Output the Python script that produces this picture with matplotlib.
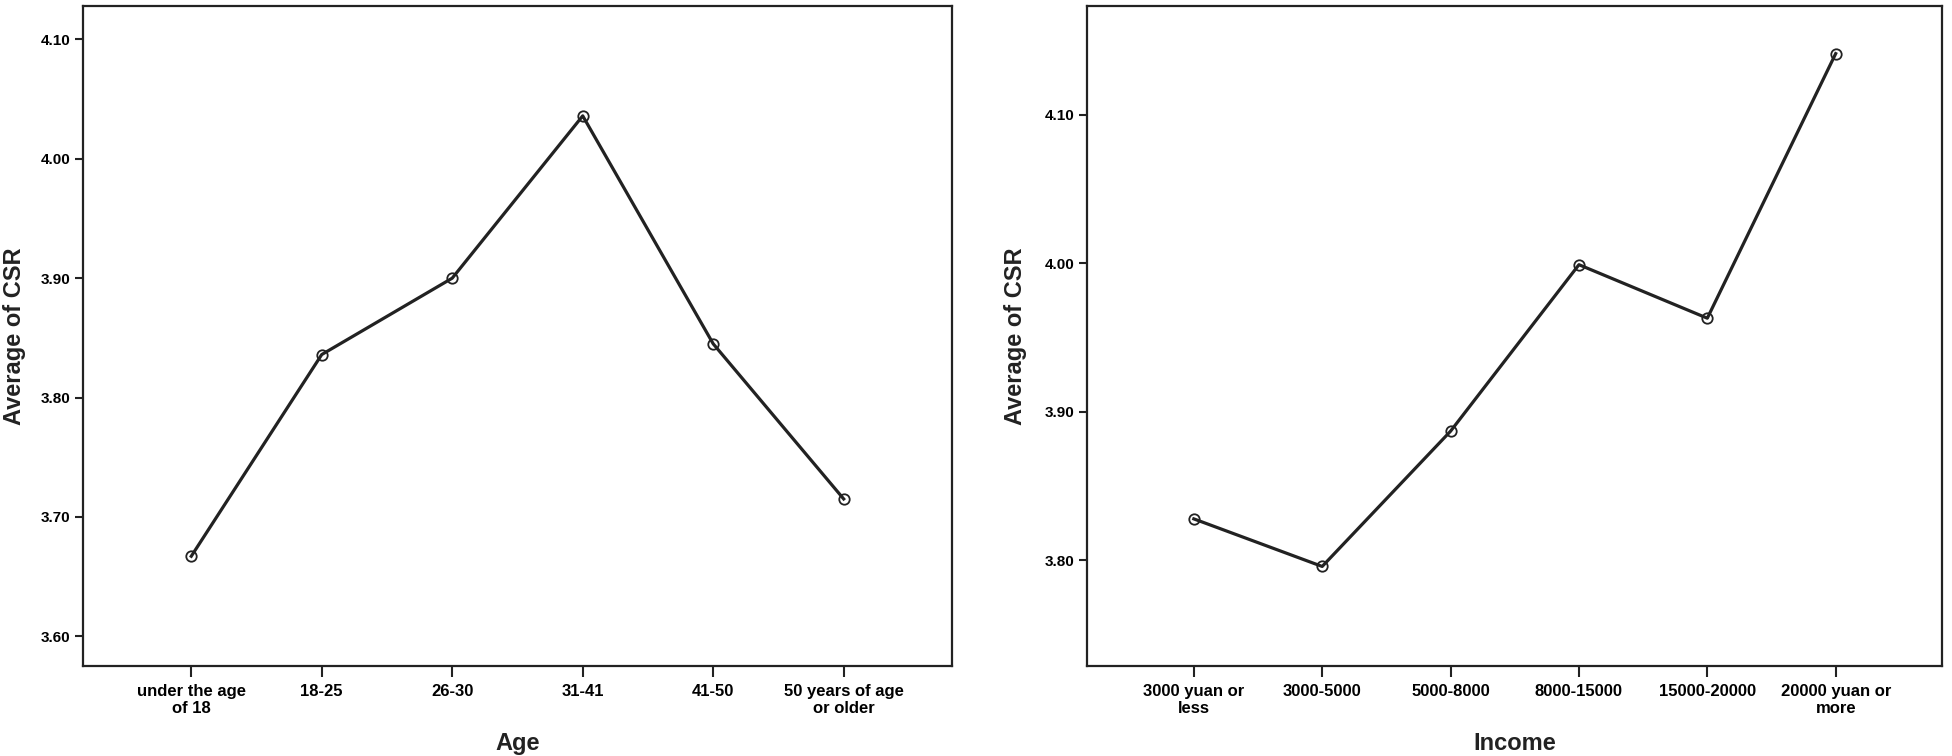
import matplotlib
matplotlib.use("Agg")
import matplotlib.pyplot as plt

# Left panel: Age
age_labels = ["under the age\nof 18", "18-25", "26-30", "31-41", "41-50", "50 years of age\nor older"]
age_means = [3.667, 3.836, 3.900, 4.036, 3.845, 3.715]
age_yticks = [3.60, 3.70, 3.80, 3.90, 4.00, 4.10]

# Right panel: Income
income_labels = ["3000 yuan or\nless", "3000-5000", "5000-8000", "8000-15000", "15000-20000", "20000 yuan or\nmore"]
income_means = [3.828, 3.796, 3.887, 3.999, 3.963, 4.141]
income_yticks = [3.80, 3.90, 4.00, 4.10]

ink = "#222222"
fam = ["Liberation Sans", "DejaVu Sans"]

fig = plt.figure(figsize=(19.52, 7.56), dpi=100)
ax1 = fig.add_axes([0.0425, 0.119, 0.4452, 0.873])
ax2 = fig.add_axes([0.557, 0.119, 0.438, 0.873])


def draw(ax, labels, means, yticks, ylim, xlabel, ylab_x):
    x = list(range(1, len(labels) + 1))
    ax.plot(x, means, color=ink, lw=2.3, marker="o", ms=7.5,
            mfc="none", mec=ink, mew=1.3)
    ax.set_xlim(0.17, len(labels) + 0.83)
    ax.set_ylim(*ylim)
    ax.set_xticks(x)
    ax.set_xticklabels(labels, fontsize=12, fontweight="bold",
                       family=fam, linespacing=1.15)
    ax.set_yticks(yticks)
    ax.set_yticklabels([f"{v:.2f}" for v in yticks], fontsize=11,
                       fontweight="bold", family=fam)
    ax.tick_params(axis="x", length=8, width=1.5, color=ink, pad=5)
    ax.tick_params(axis="y", length=6, width=1.5, color=ink, pad=3)
    for s in ax.spines.values():
        s.set_linewidth(1.6)
        s.set_color(ink)
    ax.set_xlabel(xlabel, fontsize=17, fontweight="bold", family=fam,
                  color=ink)
    ax.xaxis.set_label_coords(0.5, -0.117)
    ax.xaxis.label.set_va("center")
    ax.set_ylabel("Average of CSR", fontsize=17, fontweight="bold",
                  family=fam, color=ink)
    ax.yaxis.set_label_coords(ylab_x, 0.5)
    ax.yaxis.label.set_va("center")


draw(ax1, age_labels, age_means, age_yticks, (3.575, 4.128), "Age", -0.079)
draw(ax2, income_labels, income_means, income_yticks, (3.729, 4.173), "Income", -0.084)

fig.savefig("out.png", dpi=100)
